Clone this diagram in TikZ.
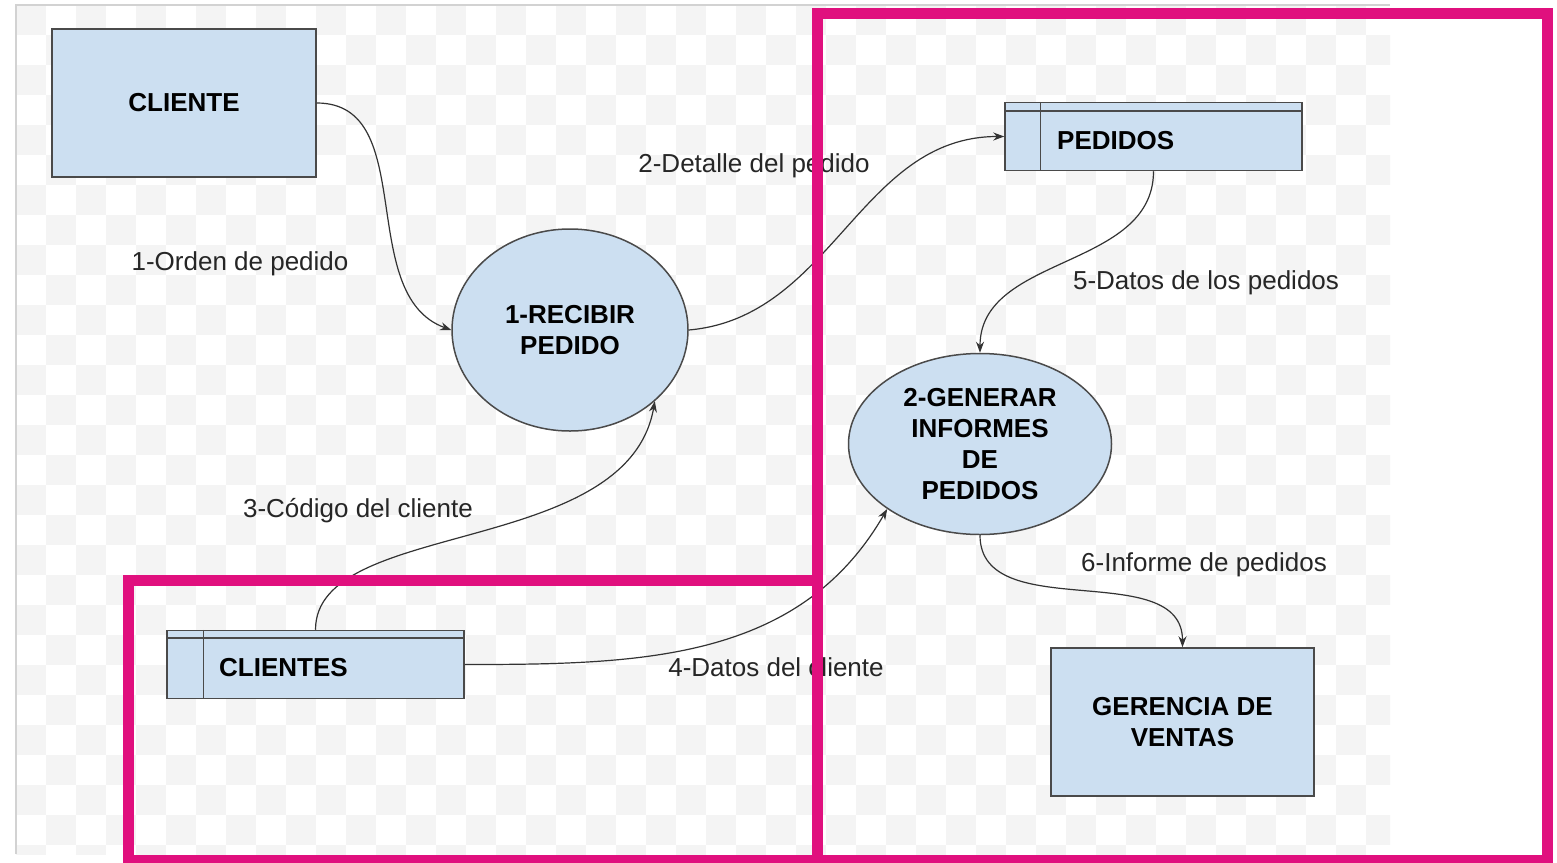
\documentclass[tikz,border=0pt]{standalone}
\usepackage{fontspec}
\setmainfont{Liberation Sans}
\usetikzlibrary{arrows.meta,shapes.geometric}
\definecolor{cajaazul}{HTML}{CCDFF1}
\definecolor{borde}{HTML}{4A4A4A}
\definecolor{rosa}{HTML}{E0107E}
\definecolor{cuadro}{HTML}{F4F4F4}

\begin{document}
\begin{tikzpicture}[x=1pt,y=1pt,
  entidad/.style={draw=borde,line width=1.5pt,fill=cajaazul,minimum width=264pt,minimum height=148pt,
    inner sep=0pt,align=center,font=\bfseries\fontsize{26}{31}\selectfont},
  proceso/.style={ellipse,draw=borde,line width=1.5pt,fill=cajaazul,inner sep=0pt,
    align=center,font=\bfseries\fontsize{26}{31}\selectfont},
  almacen/.style={draw=borde,line width=1.5pt,fill=cajaazul,minimum width=297pt,minimum height=68pt,inner sep=0pt},
  nombre/.style={anchor=west,inner sep=0pt,font=\bfseries\fontsize{26}{31}\selectfont},
  flujo/.style={draw=black!80,line width=1.2pt,-{Stealth[length=11pt,width=8pt]}},
  etiqueta/.style={inner sep=0pt,text=black!85,font=\fontsize{26}{31}\selectfont},
  marco/.style={draw=rosa,line width=11pt}]
\useasboundingbox (0,0) rectangle (1557,-862);
\fill[white] (0,0) rectangle (1557,-862);

% fondo a cuadros
\begin{scope}
\clip (16,-5) rectangle (1390,-854);
\foreach \j in {0,...,28}
  \foreach \i in {0,...,22}
    \fill[cuadro] ({16+60*\i+30*mod(\j,2)},{-5-30*\j}) rectangle +(30,-30);
\end{scope}
\draw[gray!35,line width=2pt] (16,-854) -- (16,-5) -- (1390,-5);

% entidades externas
\node[entidad] (cliente) at (184,-103) {CLIENTE};
\node[entidad,minimum width=263pt] (gerencia) at (1182.5,-722) {GERENCIA DE\\VENTAS};

% procesos
\node[proceso,minimum width=236pt,minimum height=202pt] (recibir) at (570,-330) {1-RECIBIR\\PEDIDO};
\node[proceso,minimum width=263pt,minimum height=181pt] (generar) at (980,-444) {2-GENERAR\\INFORMES\\DE\\PEDIDOS};

% almacenes
\node[almacen] (pedidos) at (1153.5,-136.5) {};
\draw[borde,line width=1.5pt] ([yshift=-9pt]pedidos.north west) -- ([yshift=-9pt]pedidos.north east);
\draw[borde,line width=1.5pt] ([xshift=36pt]pedidos.north west) -- ([xshift=36pt]pedidos.south west);
\node[nombre] (pedidos-t) at (1057,-141) {PEDIDOS};

\node[almacen] (clientes) at (315.5,-664.5) {};
\draw[borde,line width=1.5pt] ([yshift=-8pt]clientes.north west) -- ([yshift=-8pt]clientes.north east);
\draw[borde,line width=1.5pt] ([xshift=37pt]clientes.north west) -- ([xshift=37pt]clientes.south west);
\node[nombre] (clientes-t) at (219,-668) {CLIENTES};

% flujos
\draw[flujo] (cliente.east) to[out=0,in=160] (recibir.west);
\draw[flujo] (recibir.east) to[out=5,in=180] (pedidos.west);
\draw[flujo] (clientes.north) to[out=90,in=-100,out looseness=0.7] (recibir.-40);
\draw[flujo] (clientes.east) to[out=0,in=-120] (generar.215);
\draw[flujo] (pedidos.south) to[out=-90,in=90] (generar.north);
\draw[flujo] (generar.south) to[out=-90,in=90] (gerencia.north);

% etiquetas
\node[etiqueta] (e1) at (240,-264) {1-Orden de pedido};
\node[etiqueta] (e2) at (754,-166) {2-Detalle del pedido};
\node[etiqueta] (e3) at (358,-511) {3-Código del cliente};
\node[etiqueta] (e4) at (776,-667) {4-Datos del cliente};
\node[etiqueta] (e5) at (1206,-283) {5-Datos de los pedidos};
\node[etiqueta] (e6) at (1204,-565) {6-Informe de pedidos};

% marcos
\draw[marco] (817,-13.5) rectangle (1547,-860);
\draw[marco] (128,-580) rectangle (817,-860);
\end{tikzpicture}
\end{document}
